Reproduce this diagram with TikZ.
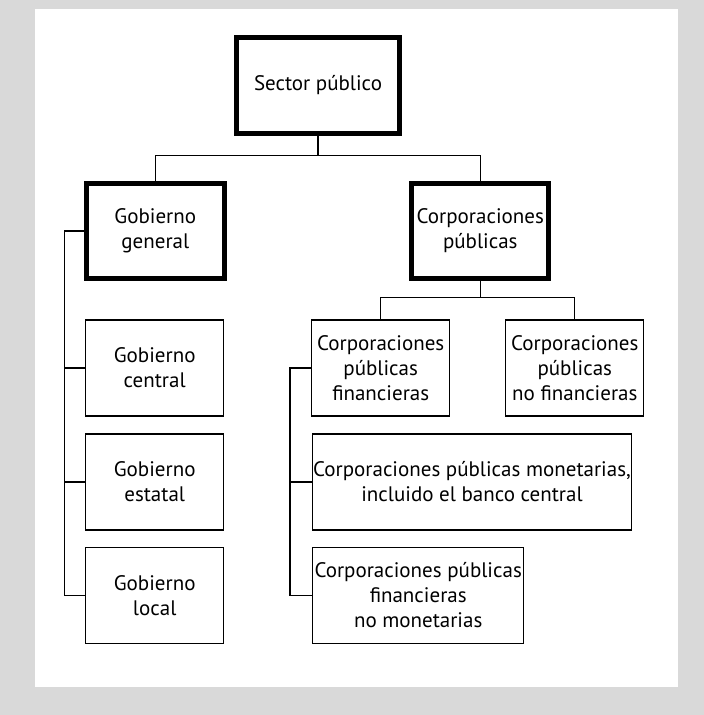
\documentclass[tikz,border=0pt]{standalone}
\usepackage{fontspec}
\setmainfont{PT Sans}
\definecolor{bggray}{HTML}{D9D9D9}
\begin{document}
\begin{tikzpicture}[x=1pt,y=-1pt,
  lbl/.style={font=\fontsize{21}{25}\selectfont, align=center, inner sep=0pt},
  thickbox/.style={lbl, draw, line width=5pt, rectangle},
  thinbox/.style={lbl, draw, line width=1.2pt, rectangle},
  conn/.style={line width=1.2pt}]
\fill[bggray] (0,0) rectangle (704,715);
\fill[white] (34.5,9) rectangle (678,687);
\useasboundingbox (0,0) rectangle (704,715);
% top level
\node[thickbox, minimum width=162.4pt, minimum height=96pt] (S) at (318,85.5) {Sector público};
\node[thickbox, minimum width=137.5pt, minimum height=95pt] (GG) at (155.3,231) {Gobierno\\general};
\node[thickbox, minimum width=137pt, minimum height=95pt] (CP) at (480.3,231) {Corporaciones\\públicas};
% general government
\node[thinbox, minimum width=138pt, minimum height=96pt] (GC) at (154.7,368) {Gobierno\\central};
\node[thinbox, minimum width=138pt, minimum height=96pt] (GE) at (154.7,482) {Gobierno\\estatal};
\node[thinbox, minimum width=138pt, minimum height=96pt] (GL) at (154.7,595.5) {Gobierno\\local};
% corporations
\node[thinbox, minimum width=138pt, minimum height=96pt] (CPF) at (380.7,368) {Corporaciones\\públicas\\financieras};
\node[thinbox, minimum width=138pt, minimum height=96pt] (CPNF) at (574.8,368) {Corporaciones\\públicas\\no financieras};
\node[thinbox, minimum width=318.6pt, minimum height=96pt] (CPM) at (472,482) {Corporaciones públicas monetarias,\\incluido el banco central};
\node[thinbox, minimum width=211pt, minimum height=96pt] (CPNM) at (418.2,595.5) {Corporaciones públicas\\financieras\\no monetarias};
% connectors
\coordinate (j1) at (318,155.5);
\draw[conn] (S.south) -- (j1);
\draw[conn] (GG.north) |- (j1) -| (CP.north);
\coordinate (j2) at (480.3,297.7);
\draw[conn] (CP.south) -- (j2);
\draw[conn] (CPF.north) |- (j2) -| (CPNF.north);
\coordinate (spL) at (64.5,0);
\draw[conn] (GG.west) -- (GG.west -| spL) -- (GL.west -| spL) -- (GL.west);
\draw[conn] (GC.west) -- (GC.west -| spL);
\draw[conn] (GE.west) -- (GE.west -| spL);
\coordinate (spR) at (290,0);
\draw[conn] (CPF.west) -- (CPF.west -| spR) -- (CPNM.west -| spR) -- (CPNM.west);
\draw[conn] (CPM.west) -- (CPM.west -| spR);
\end{tikzpicture}
\end{document}
